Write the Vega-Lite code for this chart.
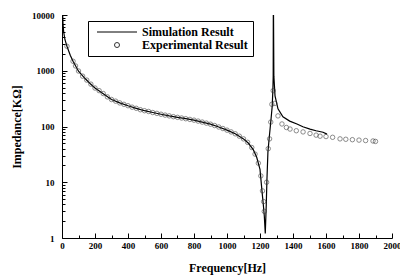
{
  "$schema": "https://vega.github.io/schema/vega-lite/v6.json",
  "autosize": "none",
  "width": 330,
  "height": 223,
  "padding": {"left": 62, "top": 15, "right": 8, "bottom": 38},
  "background": "white",
  "config": {
    "view": {"stroke": null},
    "font": "Liberation Serif",
    "axis": {
      "domainColor": "black",
      "tickColor": "black",
      "labelColor": "black",
      "titleColor": "black",
      "labelFont": "Liberation Serif",
      "labelFontWeight": "bold",
      "labelFontSize": 9,
      "titleFont": "Liberation Serif",
      "titleFontWeight": "bold",
      "titleFontSize": 12,
      "grid": false,
      "labelOverlap": false,
      "labelFlush": false,
      "labelBound": false
    }
  },
  "data": {
    "values": [
      {"s": "Simulation Result", "f": 3, "z": 12000},
      {"s": "Simulation Result", "f": 6, "z": 7000},
      {"s": "Simulation Result", "f": 10, "z": 5000},
      {"s": "Simulation Result", "f": 18, "z": 3600},
      {"s": "Simulation Result", "f": 30, "z": 2750},
      {"s": "Simulation Result", "f": 50, "z": 1900},
      {"s": "Simulation Result", "f": 67, "z": 1480},
      {"s": "Simulation Result", "f": 100, "z": 980},
      {"s": "Simulation Result", "f": 140, "z": 725},
      {"s": "Simulation Result", "f": 170, "z": 590},
      {"s": "Simulation Result", "f": 200, "z": 490},
      {"s": "Simulation Result", "f": 250, "z": 385},
      {"s": "Simulation Result", "f": 300, "z": 305},
      {"s": "Simulation Result", "f": 350, "z": 265},
      {"s": "Simulation Result", "f": 400, "z": 236},
      {"s": "Simulation Result", "f": 450, "z": 212},
      {"s": "Simulation Result", "f": 500, "z": 192},
      {"s": "Simulation Result", "f": 550, "z": 178},
      {"s": "Simulation Result", "f": 600, "z": 166},
      {"s": "Simulation Result", "f": 650, "z": 155},
      {"s": "Simulation Result", "f": 700, "z": 146},
      {"s": "Simulation Result", "f": 750, "z": 138},
      {"s": "Simulation Result", "f": 800, "z": 130},
      {"s": "Simulation Result", "f": 850, "z": 120},
      {"s": "Simulation Result", "f": 900, "z": 110},
      {"s": "Simulation Result", "f": 950, "z": 98},
      {"s": "Simulation Result", "f": 1000, "z": 86},
      {"s": "Simulation Result", "f": 1050, "z": 74},
      {"s": "Simulation Result", "f": 1100, "z": 60},
      {"s": "Simulation Result", "f": 1130, "z": 50},
      {"s": "Simulation Result", "f": 1160, "z": 38},
      {"s": "Simulation Result", "f": 1180, "z": 28},
      {"s": "Simulation Result", "f": 1200, "z": 17},
      {"s": "Simulation Result", "f": 1212, "z": 7},
      {"s": "Simulation Result", "f": 1220, "z": 4},
      {"s": "Simulation Result", "f": 1226, "z": 2.5},
      {"s": "Simulation Result", "f": 1232, "z": 1.2},
      {"s": "Simulation Result", "f": 1238, "z": 4},
      {"s": "Simulation Result", "f": 1242, "z": 11},
      {"s": "Simulation Result", "f": 1248, "z": 35},
      {"s": "Simulation Result", "f": 1255, "z": 59},
      {"s": "Simulation Result", "f": 1267, "z": 137},
      {"s": "Simulation Result", "f": 1274, "z": 230},
      {"s": "Simulation Result", "f": 1278, "z": 450},
      {"s": "Simulation Result", "f": 1280, "z": 800},
      {"s": "Simulation Result", "f": 1281, "z": 30000},
      {"s": "Simulation Result", "f": 1284, "z": 800},
      {"s": "Simulation Result", "f": 1291, "z": 355},
      {"s": "Simulation Result", "f": 1309, "z": 208},
      {"s": "Simulation Result", "f": 1339, "z": 149},
      {"s": "Simulation Result", "f": 1380, "z": 125},
      {"s": "Simulation Result", "f": 1424, "z": 111},
      {"s": "Simulation Result", "f": 1460, "z": 99},
      {"s": "Simulation Result", "f": 1503, "z": 90},
      {"s": "Simulation Result", "f": 1540, "z": 84},
      {"s": "Simulation Result", "f": 1582, "z": 79},
      {"s": "Simulation Result", "f": 1606, "z": 73},
      {"s": "Experimental Result", "f": 30, "z": 2750},
      {"s": "Experimental Result", "f": 67, "z": 1480},
      {"s": "Experimental Result", "f": 82, "z": 1220},
      {"s": "Experimental Result", "f": 100, "z": 990},
      {"s": "Experimental Result", "f": 125, "z": 800},
      {"s": "Experimental Result", "f": 150, "z": 680},
      {"s": "Experimental Result", "f": 175, "z": 575},
      {"s": "Experimental Result", "f": 200, "z": 490},
      {"s": "Experimental Result", "f": 225, "z": 440},
      {"s": "Experimental Result", "f": 250, "z": 390},
      {"s": "Experimental Result", "f": 275, "z": 340},
      {"s": "Experimental Result", "f": 300, "z": 305},
      {"s": "Experimental Result", "f": 325, "z": 285},
      {"s": "Experimental Result", "f": 350, "z": 265},
      {"s": "Experimental Result", "f": 375, "z": 250},
      {"s": "Experimental Result", "f": 400, "z": 236},
      {"s": "Experimental Result", "f": 425, "z": 222},
      {"s": "Experimental Result", "f": 450, "z": 212},
      {"s": "Experimental Result", "f": 475, "z": 200},
      {"s": "Experimental Result", "f": 500, "z": 192},
      {"s": "Experimental Result", "f": 525, "z": 186},
      {"s": "Experimental Result", "f": 550, "z": 178},
      {"s": "Experimental Result", "f": 575, "z": 172},
      {"s": "Experimental Result", "f": 600, "z": 166},
      {"s": "Experimental Result", "f": 625, "z": 160},
      {"s": "Experimental Result", "f": 650, "z": 155},
      {"s": "Experimental Result", "f": 675, "z": 150},
      {"s": "Experimental Result", "f": 700, "z": 146},
      {"s": "Experimental Result", "f": 725, "z": 142},
      {"s": "Experimental Result", "f": 750, "z": 138},
      {"s": "Experimental Result", "f": 775, "z": 134},
      {"s": "Experimental Result", "f": 800, "z": 130},
      {"s": "Experimental Result", "f": 825, "z": 125},
      {"s": "Experimental Result", "f": 850, "z": 120},
      {"s": "Experimental Result", "f": 875, "z": 115},
      {"s": "Experimental Result", "f": 900, "z": 110},
      {"s": "Experimental Result", "f": 925, "z": 104},
      {"s": "Experimental Result", "f": 950, "z": 98},
      {"s": "Experimental Result", "f": 975, "z": 92},
      {"s": "Experimental Result", "f": 1000, "z": 86},
      {"s": "Experimental Result", "f": 1025, "z": 80},
      {"s": "Experimental Result", "f": 1050, "z": 74},
      {"s": "Experimental Result", "f": 1075, "z": 67},
      {"s": "Experimental Result", "f": 1100, "z": 60},
      {"s": "Experimental Result", "f": 1125, "z": 52},
      {"s": "Experimental Result", "f": 1150, "z": 42},
      {"s": "Experimental Result", "f": 1170, "z": 32},
      {"s": "Experimental Result", "f": 1190, "z": 22},
      {"s": "Experimental Result", "f": 1205, "z": 13},
      {"s": "Experimental Result", "f": 1215, "z": 7},
      {"s": "Experimental Result", "f": 1222, "z": 4.5},
      {"s": "Experimental Result", "f": 1226, "z": 3},
      {"s": "Experimental Result", "f": 1240, "z": 10},
      {"s": "Experimental Result", "f": 1250, "z": 40},
      {"s": "Experimental Result", "f": 1258, "z": 60},
      {"s": "Experimental Result", "f": 1265, "z": 120},
      {"s": "Experimental Result", "f": 1272, "z": 250},
      {"s": "Experimental Result", "f": 1280, "z": 440},
      {"s": "Experimental Result", "f": 1290, "z": 260},
      {"s": "Experimental Result", "f": 1309, "z": 155},
      {"s": "Experimental Result", "f": 1333, "z": 111},
      {"s": "Experimental Result", "f": 1360, "z": 96},
      {"s": "Experimental Result", "f": 1382, "z": 90},
      {"s": "Experimental Result", "f": 1420, "z": 84},
      {"s": "Experimental Result", "f": 1461, "z": 80},
      {"s": "Experimental Result", "f": 1503, "z": 75},
      {"s": "Experimental Result", "f": 1540, "z": 70},
      {"s": "Experimental Result", "f": 1564, "z": 67},
      {"s": "Experimental Result", "f": 1600, "z": 66},
      {"s": "Experimental Result", "f": 1640, "z": 64},
      {"s": "Experimental Result", "f": 1685, "z": 60},
      {"s": "Experimental Result", "f": 1720, "z": 59},
      {"s": "Experimental Result", "f": 1760, "z": 58},
      {"s": "Experimental Result", "f": 1800, "z": 57},
      {"s": "Experimental Result", "f": 1840, "z": 56},
      {"s": "Experimental Result", "f": 1885, "z": 55},
      {"s": "Experimental Result", "f": 1900, "z": 54}
    ]
  },
  "encoding": {
    "x": {
      "field": "f", "type": "quantitative",
      "scale": {"domain": [0, 2000], "nice": false},
      "axis": {
        "title": "Frequency[Hz]",
        "values": [0,100,200,300,400,500,600,700,800,900,1000,1100,1200,1300,1400,1500,1600,1700,1800,1900,2000],
        "labelExpr": "datum.value % 200 === 0 ? format(datum.value, 'd') : ''",
        "tickSize": {"condition": {"test": "datum.value % 200 === 0", "value": -5}, "value": -3},
        "labelPadding": 8,
        "titlePadding": 10
      }
    },
    "y": {
      "field": "z", "type": "quantitative",
      "scale": {"type": "log", "domain": [1, 10000], "nice": false},
      "axis": {
        "title": "Impedance[KΩ]",
        "values": [1,2,3,4,5,6,7,8,9,10,20,30,40,50,60,70,80,90,100,200,300,400,500,600,700,800,900,1000,2000,3000,4000,5000,6000,7000,8000,9000,10000],
        "labelExpr": "abs(log(datum.value)/LN10 - round(log(datum.value)/LN10)) < 0.000001 ? format(datum.value, 'd') : ''",
        "tickSize": {"condition": {"test": "abs(log(datum.value)/LN10 - round(log(datum.value)/LN10)) < 0.000001", "value": -5}, "value": -3},
        "labelPadding": 13,
        "titlePadding": 8
      }
    },
    "color": {
      "field": "s", "type": "nominal",
      "scale": {"domain": ["Simulation Result", "Experimental Result"], "range": ["black", "#333333"]},
      "legend": {
        "title": null,
        "orient": "none",
        "legendX": 26,
        "legendY": 6,
        "direction": "vertical",
        "strokeColor": "black",
        "fillColor": "white",
        "padding": 5,
        "labelFont": "Liberation Serif",
        "labelFontWeight": "bold",
        "labelFontSize": 12,
        "labelColor": "black",
        "symbolType": "stroke",
        "symbolSize": 1600,
        "symbolStrokeWidth": 1,
        "labelOffset": 3,
        "rowPadding": 1,
        "encode": {
          "symbols": {
            "update": {
              "x": {"value": 24},
              "shape": {"signal": "datum.value === 'Simulation Result' ? 'stroke' : 'circle'"},
              "size": {"signal": "datum.value === 'Simulation Result' ? 1600 : 25"},
              "fill": {"value": "transparent"},
              "stroke": {"value": "black"},
              "strokeWidth": {"value": 1}
            }
          },
          "labels": {
            "update": {
              "x": {"value": 49}
            }
          }
        }
      }
    }
  },
  "layer": [
    {
      "transform": [{"filter": "datum.s === 'Simulation Result'"}],
      "mark": {"type": "line", "clip": true, "strokeWidth": 1.2}
    },
    {
      "transform": [{"filter": "datum.s === 'Experimental Result'"}],
      "mark": {"type": "point", "shape": "circle", "filled": false, "size": 20, "strokeWidth": 0.8, "clip": true}
    }
  ]
}
